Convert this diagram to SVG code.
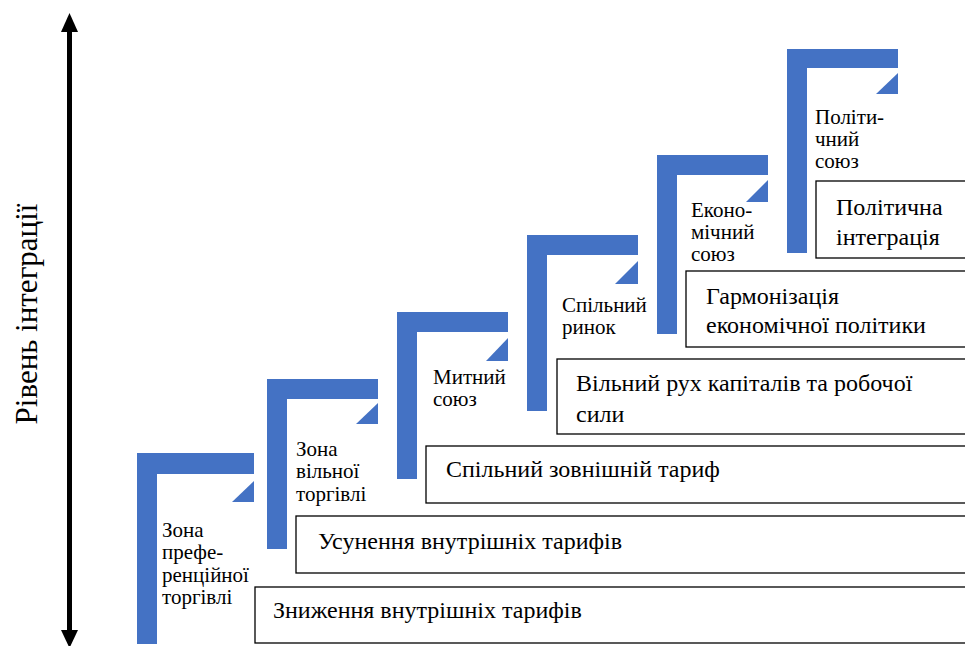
<svg xmlns="http://www.w3.org/2000/svg" width="965" height="646" viewBox="0 0 965 646">
<defs>
<style>
.step{fill:#4472C4}
.box{fill:#fff;stroke:#000;stroke-width:1.3}
text{font-family:'Liberation Serif','Times New Roman',serif;fill:#000}
.bt{font-size:24px}
.st{font-size:21px}
.ax{font-size:31px}
</style>
</defs>
<rect width="965" height="646" fill="#fff"/>
<g id="axis">
<rect x="67" y="30" width="5" height="605" fill="#000"/>
<polygon points="69.5,13 61,32 78,32" fill="#000"/>
<polygon points="69.5,648 61,630 78,630" fill="#000"/>
<text class="ax" transform="translate(37,314) rotate(-90)" text-anchor="middle">Рівень інтеграції</text>
</g>
<g id="step1">
<path class="step" d="M137,453H254V474H157V644H137Z"/>
<polygon class="step" points="254,481 254,502 232,502"/>
<text class="st" x="162" y="537">Зона</text>
<text class="st" x="162" y="559">префе-</text>
<text class="st" x="162" y="582">ренційної</text>
<text class="st" x="162" y="604">торгівлі</text>
</g>
<g id="step2">
<path class="step" d="M267,379H378V399H287V549H267Z"/>
<polygon class="step" points="378,403 378,424 356,424"/>
<text class="st" x="296" y="456">Зона</text>
<text class="st" x="296" y="478">вільної</text>
<text class="st" x="296" y="501">торгівлі</text>
</g>
<g id="step3">
<path class="step" d="M397,312H508V332H417V479H397Z"/>
<polygon class="step" points="508,338 508,361 486,361"/>
<text class="st" x="433" y="384">Митний</text>
<text class="st" x="433" y="406">союз</text>
</g>
<g id="step4">
<path class="step" d="M527,235H638V255H547V411H527Z"/>
<polygon class="step" points="638,261 638,284 615,284"/>
<text class="st" x="562" y="312">Спільний</text>
<text class="st" x="562" y="334">ринок</text>
</g>
<g id="step5">
<path class="step" d="M657,155H768V175H677V334H657Z"/>
<polygon class="step" points="768,180 768,202 746,202"/>
<text class="st" x="691" y="217">Еконо-</text>
<text class="st" x="691" y="239">мічний</text>
<text class="st" x="691" y="261">союз</text>
</g>
<g id="step6">
<path class="step" d="M787,49H898V68H807V253H787Z"/>
<polygon class="step" points="898,73 898,94 876,94"/>
<text class="st" x="815" y="124">Політи-</text>
<text class="st" x="815" y="146">чний</text>
<text class="st" x="815" y="168">союз</text>
</g>
<g id="box1">
<rect class="box" x="255" y="587" width="720" height="56"/>
<text class="bt" x="273" y="618">Зниження внутрішніх тарифів</text>
</g>
<g id="box2">
<rect class="box" x="296" y="516" width="680" height="57"/>
<text class="bt" x="318" y="549">Усунення внутрішніх тарифів</text>
</g>
<g id="box3">
<rect class="box" x="426" y="446" width="560" height="57"/>
<text class="bt" x="446" y="477">Спільний зовнішній тариф</text>
</g>
<g id="box4">
<rect class="box" x="557" y="359" width="420" height="75"/>
<text class="bt" x="576" y="391">Вільний рух капіталів та робочої</text>
<text class="bt" x="576" y="422">сили</text>
</g>
<g id="box5">
<rect class="box" x="686" y="271" width="300" height="76"/>
<text class="bt" x="706" y="304">Гармонізація</text>
<text class="bt" x="706" y="333">економічної політики</text>
</g>
<g id="box6">
<rect class="box" x="816" y="181" width="160" height="77"/>
<text class="bt" x="836" y="215">Політична</text>
<text class="bt" x="836" y="245">інтеграція</text>
</g>
</svg>
